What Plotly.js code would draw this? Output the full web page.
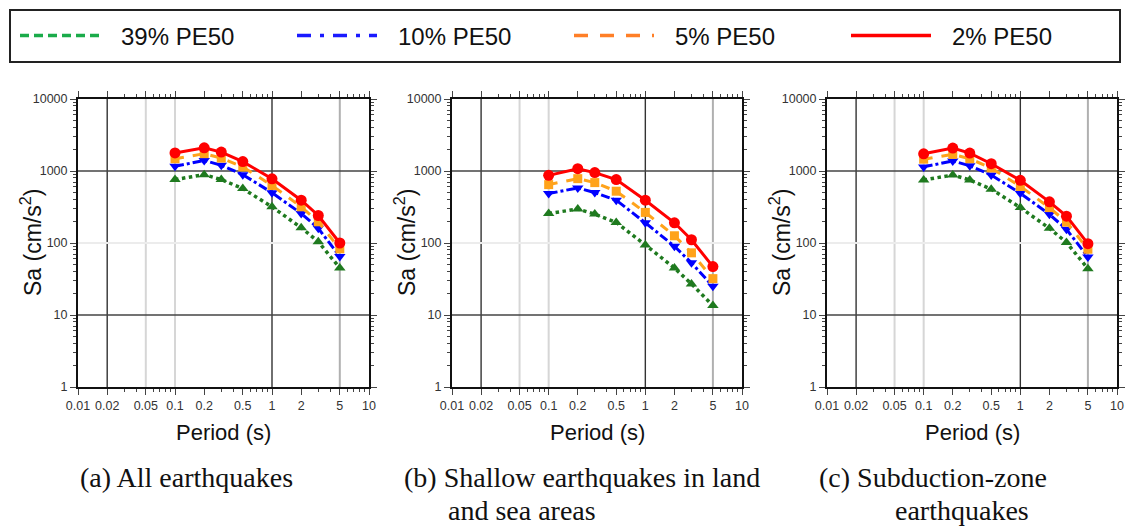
<!DOCTYPE html>
<html>
<head>
<meta charset="utf-8">
<script src="https://cdn.plot.ly/plotly-3.0.1.min.js"></script>
<style>html,body{margin:0;padding:0;background:#fff;}#chart{width:1128px;height:527px;}</style>
</head>
<body>
<div id="chart"></div>
<script>
// ---------- data ----------
const period = [0.1, 0.2, 0.3, 0.5, 1, 2, 3, 5];
const seriesNames = ["39% PE50", "10% PE50", "5% PE50", "2% PE50"];

// (a) All earthquakes
const a_pe39 = [760, 890, 760, 570, 318, 163, 104, 45];
const a_pe10 = [1160, 1400, 1200, 890, 500, 257, 160, 65];
const a_pe5  = [1480, 1740, 1510, 1140, 630, 318, 197, 83];
const a_pe2  = [1780, 2100, 1830, 1350, 780, 393, 241, 100];
// (b) Shallow earthquakes in land and sea areas
const b_pe39 = [257, 296, 252, 193, 94, 45, 27, 13.5];
const b_pe10 = [486, 582, 502, 393, 191, 90, 53, 25];
const b_pe5  = [647, 783, 690, 524, 266, 126, 73, 32];
const b_pe2  = [870, 1077, 950, 760, 393, 191, 111, 47];
// (c) Subduction-zone earthquakes
const c_pe39 = [750, 880, 750, 560, 310, 160, 102, 44];
const c_pe10 = [1140, 1380, 1180, 880, 490, 250, 155, 64];
const c_pe5  = [1460, 1700, 1480, 1100, 610, 310, 195, 82];
const c_pe2  = [1735, 2080, 1775, 1263, 743, 373, 236, 98];

const xTickVals = [0.01, 0.02, 0.05, 0.1, 0.2, 0.5, 1, 2, 5, 10];
const xTickText = ["0.01", "0.02", "0.05", "0.1", "0.2", "0.5", "1", "2", "5", "10"];
const yTickVals = [1, 10, 100, 1000, 10000];
const yTickText = ["1", "10", "100", "1000", "10000"];
const captions = [
  ["(a) All earthquakes"],
  ["(b) Shallow earthquakes in land", "and sea areas"],
  ["(c) Subduction-zone", "earthquakes"]
];
// grid lines visible in the reference
const gridXDark = [0.02, 1];
const gridXLight = [0.05, 0.1];
const gridXMid = [5];
const gridYDark = [10, 1000];
const gridYLight = [100];

// ---------- layout helpers ----------
const W = 1128, H = 527;
const panels = [
  {data: [a_pe39, a_pe10, a_pe5, a_pe2], left: 78, right: 369},
  {data: [b_pe39, b_pe10, b_pe5, b_pe2], left: 452, right: 742},
  {data: [c_pe39, c_pe10, c_pe5, c_pe2], left: 827, right: 1117}
];
const plotTop = 99, plotBottom = 387;

const styles = [
  {color: "#1f7a1f", dash: "dot", symbol: "triangle-up", size: 10},
  {color: "#0000ff", dash: "dashdot", symbol: "triangle-down", size: 10},
  {color: "#ffa31a", dash: "dash", symbol: "square", size: 9},
  {color: "#ff0000", dash: "solid", symbol: "circle", size: 11}
];
const legendStyles = [
  {color: "#1aab4a", dash: "9px,5px"},
  {color: "#1a1aff", dash: "14px,9px,4px,9px"},
  {color: "#ff7f27", dash: "14px,12px"},
  {color: "#ff0000", dash: "solid"}
];

function minorVals(lo, hi) {
  const v = [];
  for (let d = lo; d < hi; d++) {
    for (let m = 2; m <= 9; m++) v.push(m * Math.pow(10, d));
  }
  return v;
}
const minorX = minorVals(-2, 1).filter(v => !xTickVals.some(t => Math.abs(t - v) < 1e-9));
const minorY = minorVals(0, 4);

const traces = [];
const layout = {
  width: W, height: H,
  margin: {l: 0, r: 0, t: 0, b: 0},
  paper_bgcolor: "#fff", plot_bgcolor: "#fff",
  showlegend: true,
  legend: {
    orientation: "h",
    x: 15 / W, xanchor: "left",
    y: 1 - 36 / H, yanchor: "middle",
    borderwidth: 0,
    bgcolor: "rgba(0,0,0,0)",
    font: {family: "Liberation Sans, Arial, sans-serif", size: 24, color: "#111"},
    itemwidth: 80,
    entrywidth: 182, entrywidthmode: "pixels",
    itemclick: false, itemdoubleclick: false
  },
  shapes: [{
    type: "rect", xref: "paper", yref: "paper",
    x0: 10 / W, x1: 1120 / W, y0: 1 - 62 / H, y1: 1 - 10 / H,
    line: {color: "#222", width: 2}, fillcolor: "rgba(0,0,0,0)"
  }],
  annotations: []
};

panels.forEach((p, i) => {
  const xa = i === 0 ? "x" : "x" + (i + 1);
  const ya = i === 0 ? "y" : "y" + (i + 1);
  const xKey = i === 0 ? "xaxis" : "xaxis" + (i + 1);
  const yKey = i === 0 ? "yaxis" : "yaxis" + (i + 1);
  const tickFont = {family: "Liberation Sans, Arial, sans-serif", size: 12.5, color: "#333"};
  layout[xKey] = {
    type: "log", range: [-2, 1],
    domain: [p.left / W, p.right / W],
    anchor: ya,
    tickmode: "array", tickvals: xTickVals, ticktext: xTickText,
    ticks: "outside", ticklen: 6, tickwidth: 1, tickcolor: "#444",
    minor: {tickmode: "array", tickvals: minorX, ticks: "outside", ticklen: 3, tickcolor: "#444", showgrid: false},
    showgrid: false, zeroline: false,
    showline: true, linecolor: "#111", linewidth: 2, mirror: "ticks",
    tickfont: tickFont, fixedrange: true
  };
  layout[yKey] = {
    type: "log", range: [0, 4],
    domain: [1 - plotBottom / H, 1 - plotTop / H],
    anchor: xa,
    tickmode: "array", tickvals: yTickVals, ticktext: yTickText,
    ticks: "outside", ticklen: 6, tickwidth: 1, tickcolor: "#444",
    minor: {tickmode: "array", tickvals: minorY, ticks: "outside", ticklen: 3, tickcolor: "#444", showgrid: false},
    showgrid: false, zeroline: false,
    showline: true, linecolor: "#111", linewidth: 2, mirror: "ticks",
    tickfont: tickFont, fixedrange: true
  };

  // series
  p.data.forEach((vals, k) => {
    const s = styles[k];
    traces.push({
      type: "scatter", mode: "lines+markers",
      x: period, y: vals, xaxis: xa, yaxis: ya,
      name: seriesNames[k], showlegend: false,
      line: {color: s.color, width: k === 0 ? 3.5 : 3, dash: s.dash},
      marker: {color: s.color, symbol: s.symbol, size: s.size},
      hoverinfo: "x+y+name"
    });
  });

  // grid lines (data values on the log axes)
  const vline = (v, color, width) => layout.shapes.push({
    type: "line", xref: xa, yref: ya + " domain", layer: "below",
    x0: v, x1: v, y0: 0, y1: 1,
    line: {color: color, width: width}
  });
  const hline = (v, color, width) => layout.shapes.push({
    type: "line", xref: xa + " domain", yref: ya, layer: "below",
    x0: 0, x1: 1, y0: v, y1: v,
    line: {color: color, width: width}
  });
  gridXDark.forEach(v => vline(v, "#333", 1.4));
  gridXLight.forEach(v => vline(v, "#d6d6d6", 2));
  gridXMid.forEach(v => vline(v, "#b0b0b0", 2));
  gridYDark.forEach(v => hline(v, "#444", 1.4));
  gridYLight.forEach(v => hline(v, "#ececec", 2));

  const cx = (p.left + p.right) / 2;
  const cy = (plotTop + plotBottom) / 2;
  // x axis title
  layout.annotations.push({
    xref: "paper", yref: "paper", x: cx / W, y: 1 - 432 / H,
    xanchor: "center", yanchor: "middle", showarrow: false,
    text: "Period (s)",
    font: {family: "Liberation Sans, Arial, sans-serif", size: 22, color: "#111"}
  });
  // y axis title
  layout.annotations.push({
    xref: "paper", yref: "paper", x: (p.left - 47) / W, y: 1 - cy / H,
    xanchor: "center", yanchor: "middle", showarrow: false, textangle: -90,
    text: "Sa (cm/s<sup>2</sup>)",
    font: {family: "Liberation Sans, Arial, sans-serif", size: 23, color: "#111"}
  });
});

// caption lines (left x positions and centres)
const capPos = [
  [{x: 78, y: 477}],
  [{x: 402, y: 477}, {x: 446, y: 510}],
  [{x: 817, y: 477}, {x: 893, y: 510}]
];
captions.forEach((lines, i) => {
  lines.forEach((t, j) => {
    layout.annotations.push({
      xref: "paper", yref: "paper", x: capPos[i][j].x / W, y: 1 - capPos[i][j].y / H,
      xanchor: "left", yanchor: "middle", showarrow: false,
      text: t,
      font: {family: "Liberation Serif, Times New Roman, serif", size: 28, color: "#111"}
    });
  });
});

// legend entries
seriesNames.forEach((n, k) => {
  traces.push({
    type: "scatter", mode: "lines",
    x: [null], y: [null], xaxis: "x", yaxis: "y",
    name: n, showlegend: true, hoverinfo: "skip",
    line: {color: legendStyles[k].color, width: 3.5, dash: legendStyles[k].dash}
  });
});

Plotly.newPlot("chart", traces, layout, {displayModeBar: false, staticPlot: true}).then(gd => {
  // widen the gap between legend key and its label, as in the reference
  gd.querySelectorAll(".legendtext").forEach(t => {
    t.setAttribute("x", (parseFloat(t.getAttribute("x")) || 0) + 16);
  });
});
</script>
</body>
</html>
